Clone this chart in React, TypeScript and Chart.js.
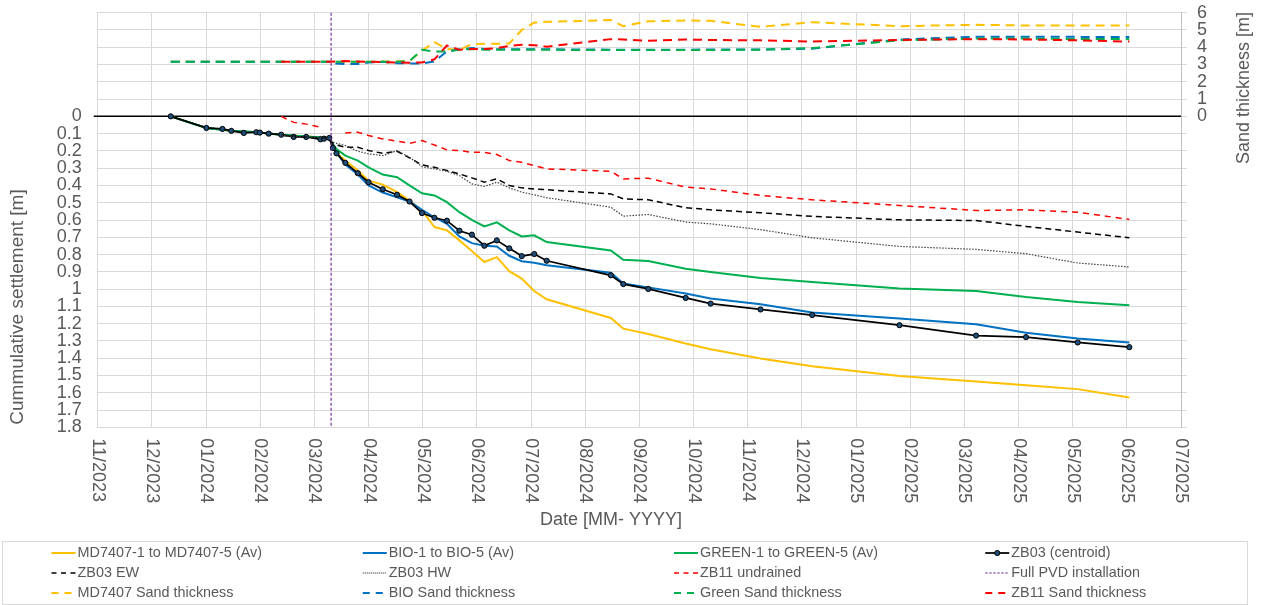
import React, { useEffect, useRef } from "react";
import { Chart, registerables } from "chart.js";

Chart.register(...registerables);

// ---------------- DATA ----------------
const axisStartDate = "2023-11-01";
const axisEndDate = "2025-07-01";
const pvdDate = "2024-03-11";

const xTickLabels = [
  "11/2023", "12/2023", "01/2024", "02/2024", "03/2024", "04/2024", "05/2024",
  "06/2024", "07/2024", "08/2024", "09/2024", "10/2024", "11/2024", "12/2024",
  "01/2025", "02/2025", "03/2025", "04/2025", "05/2025", "06/2025", "07/2025",
];

const surveyDates = [
  "2023-12-12", "2024-01-01", "2024-01-10", "2024-01-15", "2024-01-22", "2024-01-29",
  "2024-01-31", "2024-02-05", "2024-02-12", "2024-02-19", "2024-02-26", "2024-03-05",
  "2024-03-07", "2024-03-10", "2024-03-12", "2024-03-14", "2024-03-19", "2024-03-26",
  "2024-04-01", "2024-04-09", "2024-04-17", "2024-04-24", "2024-05-01", "2024-05-08",
  "2024-05-15", "2024-05-22", "2024-05-29", "2024-06-05", "2024-06-12", "2024-06-19",
  "2024-06-26", "2024-07-03", "2024-07-10", "2024-08-15", "2024-08-22", "2024-09-05",
  "2024-09-26", "2024-10-10", "2024-11-07", "2024-12-06", "2025-01-24", "2025-03-08",
  "2025-04-05", "2025-05-04", "2025-06-02",
];

const md7407Settlement = [
  0, 0.067, null, 0.084, null, 0.092, null, null, 0.106, null, 0.116, null,
  null, 0.125, 0.18, 0.21, 0.256, 0.314, 0.372, 0.395, 0.439, 0.487, 0.545, 0.641,
  0.66, 0.718, 0.78, 0.843, 0.815, 0.896, 0.939, 1.011, 1.059, 1.167, 1.229, 1.26,
  1.315, 1.348, 1.402, 1.446, 1.503, 1.535, 1.557, 1.579, 1.627,
];

const bioSettlement = [
  0, 0.067, null, 0.084, null, 0.092, null, null, 0.106, null, 0.118, null,
  null, 0.125, 0.175, 0.21, 0.279, 0.337, 0.4, 0.441, 0.468, 0.493, 0.541, 0.584,
  0.622, 0.695, 0.734, 0.749, 0.753, 0.807, 0.839, 0.847, 0.862, 0.905, 0.968, 0.99,
  1.026, 1.055, 1.088, 1.136, 1.17, 1.203, 1.253, 1.286, 1.309,
];

const greenSettlement = [
  0, 0.067, null, 0.084, null, 0.092, null, null, 0.106, null, 0.116, null,
  null, 0.125, 0.16, 0.19, 0.227, 0.256, 0.295, 0.337, 0.352, 0.4, 0.445, 0.458,
  0.497, 0.555, 0.599, 0.637, 0.614, 0.66, 0.695, 0.689, 0.728, 0.776, 0.83, 0.838,
  0.882, 0.901, 0.936, 0.959, 0.997, 1.011, 1.046, 1.075, 1.094,
];

const zb03Centroid = [
  0, 0.067, 0.073, 0.084, 0.096, 0.092, 0.094, 0.1, 0.106, 0.119, 0.119, 0.133,
  0.129, 0.125, 0.183, 0.214, 0.269, 0.329, 0.381, 0.422, 0.454, 0.493, 0.56, 0.587,
  0.604, 0.662, 0.685, 0.749, 0.718, 0.764, 0.809, 0.797, 0.836, 0.92, 0.971, 0.999,
  1.051, 1.084, 1.118, 1.15, 1.209, 1.269, 1.278, 1.309, 1.336,
];

const zb03EW = [
  null, null, null, null, null, null, null, null, 0.11, null, 0.12, null,
  null, 0.125, 0.16, null, 0.179, 0.179, 0.198, 0.214, 0.202, 0.24, 0.281, 0.295,
  0.314, 0.333, 0.356, 0.381, 0.362, 0.4, 0.414, 0.42, 0.425, 0.449, 0.478, 0.483,
  0.529, 0.541, 0.558, 0.579, 0.599, 0.603, 0.637, 0.67, 0.703,
];

const zb03HW = [
  null, null, null, null, null, null, null, null, 0.11, null, 0.12, null,
  null, 0.125, 0.15, null, 0.169, 0.202, 0.217, 0.227, 0.198, 0.237, 0.291, 0.304,
  0.318, 0.343, 0.391, 0.406, 0.381, 0.414, 0.439, 0.454, 0.471, 0.526, 0.578, 0.568,
  0.612, 0.622, 0.656, 0.703, 0.753, 0.77, 0.795, 0.849, 0.872,
];

const zb11Undrained = [
  null, null, null, null, null, null, null, null, 0, 0.035, 0.045, 0.063,
  null, null, null, null, 0.096, 0.092, 0.111, 0.131, 0.144, 0.156, 0.14, 0.166,
  0.194, 0.198, 0.208, 0.208, 0.221, 0.256, 0.266, 0.285, 0.304, 0.318, 0.362, 0.358,
  0.41, 0.42, 0.458, 0.483, 0.516, 0.545, 0.541, 0.555, 0.597,
];

const md7407Sand = [
  3.16, null, null, null, null, null, null, null, null, null, null, null,
  null, 3.16, null, null, 3.16, null, 3.16, null, null, 3.2, 3.8, 4.3,
  3.9, 3.84, 4.18, 4.2, 4.2, 4.22, 5.0, 5.43, 5.47, 5.57, 5.22, 5.5,
  5.55, 5.53, 5.18, 5.45, 5.22, 5.3, 5.26, 5.26, 5.26,
];

const bioSand = [
  3.16, null, null, null, null, null, null, null, null, null, null, null,
  null, 3.16, 3.06, null, 3.03, 3.03, 3.12, 3.16, 3.08, 3.06, 3.06, 3.18,
  3.76, 3.87, 3.95, 3.9, 3.88, 3.88, 3.88, 3.88, 3.88, 3.86, 3.86, 3.86,
  3.86, 3.87, 3.87, 3.92, 4.45, 4.61, 4.61, 4.6, 4.6,
];

const greenSand = [
  3.16, null, null, null, null, null, null, null, null, null, null, null,
  null, 3.16, null, null, 3.16, null, 3.16, null, 3.16, 3.2, 3.85, 3.76,
  3.76, 3.87, 3.9, 3.86, 3.86, 3.86, 3.85, 3.85, 3.85, 3.84, 3.84, 3.84,
  3.84, 3.84, 3.86, 3.95, 4.4, 4.5, 4.5, 4.48, 4.47,
];

const zb11Sand = [
  null, null, null, null, null, null, null, null, 3.16, null, null, null,
  null, 3.16, null, null, 3.2, null, 3.16, null, null, 3.1, 3.12, 3.3,
  4.1, 3.85, 3.9, 3.9, 3.95, 4.08, 4.14, 4.12, 4.03, 4.47, 4.45, 4.37,
  4.45, 4.42, 4.4, 4.33, 4.42, 4.47, 4.45, 4.4, 4.33,
];

const settlementAxis = { min: -0.6, max: 1.8, step: 0.1 };
const sandAxis = { min: -18, max: 6, step: 1 };

const legendLabels = [
  "MD7407-1 to MD7407-5 (Av)", "BIO-1 to BIO-5 (Av)", "GREEN-1 to GREEN-5 (Av)", "ZB03 (centroid)",
  "ZB03 EW", "ZB03 HW", "ZB11 undrained", "Full PVD installation",
  "MD7407 Sand thickness", "BIO Sand thickness", "Green Sand thickness", "ZB11 Sand thickness",
];

// ---------------- HELPERS ----------------
const FONT = "'Liberation Sans', Arial, Helvetica, sans-serif";
const TEXT = "#595959";
const GRID = "#d9d9d9";

const dayOf = (iso: string) => (Date.parse(iso) - Date.parse(axisStartDate)) / 86400000;
const series = (values: (number | null)[]) =>
  values.map((v, i) => ({ x: dayOf(surveyDates[i]), y: v }));

const axisTicks = (a: { min: number; max: number; step: number }) => {
  const n = Math.round((a.max - a.min) / a.step);
  const out: { value: number }[] = [];
  for (let i = 0; i <= n; i++) out.push({ value: Math.round((a.min + i * a.step) * 1000) / 1000 });
  return out;
};

const overlayPlugin = {
  id: "overlay",
  beforeDatasetsDraw(chart: any) {
    const { ctx, chartArea } = chart;
    const y0 = chart.scales.y.getPixelForValue(0);
    ctx.save();
    ctx.strokeStyle = "#000";
    ctx.lineWidth = 1.5;
    ctx.beginPath();
    ctx.moveTo(chartArea.left - 4, y0);
    ctx.lineTo(chartArea.right, y0);
    ctx.stroke();
    ctx.restore();
  },
  afterDraw(chart: any) {
    const { ctx, chartArea } = chart;
    const xs = chart.scales.x;
    ctx.save();
    ctx.fillStyle = TEXT;
    // rotated x tick labels (reading top to bottom)
    ctx.font = `18px ${FONT}`;
    ctx.textAlign = "left";
    ctx.textBaseline = "middle";
    xs.ticks.forEach((t: any, i: number) => {
      const px = xs.getPixelForValue(t.value);
      ctx.save();
      ctx.translate(px, chartArea.bottom + 11);
      ctx.rotate(Math.PI / 2);
      ctx.fillText(xTickLabels[i], 0, 0);
      ctx.restore();
    });
    // axis titles
    ctx.textAlign = "center";
    ctx.fillText("Date [MM- YYYY]", 611, 520);
    ctx.save();
    ctx.font = `19px ${FONT}`;
    ctx.translate(18, 307);
    ctx.rotate(-Math.PI / 2);
    ctx.fillText("Cummulative settlement [m]", 0, 0);
    ctx.restore();
    ctx.save();
    ctx.translate(1244, 88);
    ctx.rotate(-Math.PI / 2);
    ctx.fillText("Sand thickness [m]", 0, 0);
    ctx.restore();

    // legend
    const box = { left: 2.5, top: 541.5, right: 1247.5, bottom: 604.5 };
    ctx.strokeStyle = GRID;
    ctx.lineWidth = 1;
    ctx.strokeRect(box.left, box.top, box.right - box.left, box.bottom - box.top);
    const colW = (box.right - box.left) / 4;
    ctx.font = `14.4px ${FONT}`;
    ctx.textAlign = "left";
    ctx.textBaseline = "middle";
    chart.data.datasets.forEach((ds: any, i: number) => {
      const r = Math.floor(i / 4);
      const c = i % 4;
      const x0 = box.left + 49 + c * colW;
      const y = 553 + r * 20;
      ctx.save();
      ctx.strokeStyle = ds.borderColor;
      ctx.lineWidth = ds.borderWidth;
      ctx.setLineDash(ds.legendDash || []);
      ctx.beginPath();
      ctx.moveTo(x0, y);
      ctx.lineTo(x0 + 24, y);
      ctx.stroke();
      ctx.setLineDash([]);
      if (ds.pointRadius) {
        ctx.beginPath();
        ctx.arc(x0 + 12, y, ds.pointRadius, 0, Math.PI * 2);
        ctx.fillStyle = ds.pointBackgroundColor;
        ctx.fill();
        ctx.lineWidth = 1;
        ctx.strokeStyle = ds.pointBorderColor;
        ctx.stroke();
      }
      ctx.restore();
      ctx.fillStyle = TEXT;
      ctx.fillText(ds.label, x0 + 26, y);
    });
    ctx.restore();
  },
};

export default function App() {
  const ref = useRef<HTMLCanvasElement>(null);

  useEffect(() => {
    const sandStyle = { borderWidth: 2, borderDash: [9, 6], legendDash: [7, 6], yAxisID: "y2", spanGaps: true };
    const datasets: any[] = [
      { label: legendLabels[0], data: series(md7407Settlement), borderColor: "#FFC000", borderWidth: 2, spanGaps: true },
      { label: legendLabels[1], data: series(bioSettlement), borderColor: "#0070C0", borderWidth: 2, spanGaps: true },
      { label: legendLabels[2], data: series(greenSettlement), borderColor: "#00B050", borderWidth: 2, spanGaps: true },
      {
        label: legendLabels[3], data: series(zb03Centroid), borderColor: "#000000", borderWidth: 1.75,
        pointRadius: 2.6, pointBackgroundColor: "#1F4E79", pointBorderColor: "#000000", pointBorderWidth: 1,
      },
      { label: legendLabels[4], data: series(zb03EW), borderColor: "#000000", borderWidth: 1.5, borderDash: [6, 4], legendDash: [5, 4.5], spanGaps: true },
      { label: legendLabels[5], data: series(zb03HW), borderColor: "#404040", borderWidth: 1.2, borderDash: [1.5, 1.5], legendDash: [1, 1], spanGaps: true },
      { label: legendLabels[6], data: series(zb11Undrained), borderColor: "#FF0000", borderWidth: 1.5, borderDash: [6, 5], legendDash: [5, 4.5], spanGaps: false },
      {
        label: legendLabels[7],
        data: [
          { x: dayOf(pvdDate), y: settlementAxis.min },
          { x: dayOf(pvdDate), y: settlementAxis.max },
        ],
        borderColor: "#7030A0", borderWidth: 1.2, borderDash: [3, 2], legendDash: [2.5, 1.5],
      },
      { label: legendLabels[8], data: series(md7407Sand), borderColor: "#FFC000", ...sandStyle },
      { label: legendLabels[9], data: series(bioSand), borderColor: "#0070C0", ...sandStyle },
      { label: legendLabels[10], data: series(greenSand), borderColor: "#00B050", ...sandStyle },
      { label: legendLabels[11], data: series(zb11Sand), borderColor: "#FF0000", ...sandStyle },
    ];
    datasets.forEach((d, i) => {
      d.order = datasets.length - i;
      if (!d.yAxisID) d.yAxisID = "y";
      if (d.pointRadius === undefined) d.pointRadius = 0;
      d.fill = false;
      d.tension = 0;
    });

    const xMax = dayOf(axisEndDate);
    const chart = new Chart(ref.current as HTMLCanvasElement, {
      type: "line",
      data: { datasets },
      plugins: [overlayPlugin],
      options: {
        animation: false,
        responsive: true,
        maintainAspectRatio: false,
        events: [],
        layout: { padding: { top: 12.7, left: 0, right: 0, bottom: 0 } },
        plugins: { legend: { display: false }, tooltip: { enabled: false }, title: { display: false } },
        scales: {
          x: {
            type: "linear",
            min: 0,
            max: xMax,
            afterBuildTicks: (s: any) => {
              const n = xTickLabels.length - 1;
              s.ticks = xTickLabels.map((_, i) => ({ value: (i * xMax) / n }));
            },
            afterFit: (s: any) => {
              s.height = 177.7;
              s.paddingLeft = 0;
              s.paddingRight = 0;
            },
            ticks: { display: false },
            grid: { color: GRID, lineWidth: 1, drawTicks: false },
            border: { display: true, color: GRID },
          },
          y: {
            type: "linear",
            position: "left",
            reverse: true,
            min: settlementAxis.min,
            max: settlementAxis.max,
            afterBuildTicks: (s: any) => { s.ticks = axisTicks(settlementAxis); },
            afterFit: (s: any) => {
              s.width = 97.7;
              s.paddingTop = 0;
              s.paddingBottom = 0;
            },
            ticks: {
              autoSkip: false,
              padding: 16,
              color: TEXT,
              font: { family: FONT, size: 18 },
              callback: (v: any) => (v < -1e-6 ? "" : String(Math.round(v * 10) / 10)),
            },
            grid: { color: GRID, lineWidth: 1, drawTicks: false },
            border: { display: true, color: GRID },
          },
          y2: {
            type: "linear",
            position: "right",
            min: sandAxis.min,
            max: sandAxis.max,
            afterBuildTicks: (s: any) => { s.ticks = axisTicks(sandAxis); },
            afterFit: (s: any) => {
              s.width = 80;
              s.paddingTop = 0;
              s.paddingBottom = 0;
            },
            ticks: {
              autoSkip: false,
              padding: 10,
              color: TEXT,
              font: { family: FONT, size: 18 },
              callback: (v: any) => (v < -1e-6 ? "" : String(Math.round(v))),
            },
            grid: { drawOnChartArea: false, drawTicks: true, tickLength: 6, color: GRID, lineWidth: 1 },
            border: { display: true, color: "#bfbfbf" },
          },
        },
      } as any,
    });
    return () => chart.destroy();
  }, []);

  return (
    <div style={{ position: "absolute", left: 0, top: 0, width: 1261, height: 605, background: "#fff" }}>
      <canvas ref={ref} />
    </div>
  );
}
